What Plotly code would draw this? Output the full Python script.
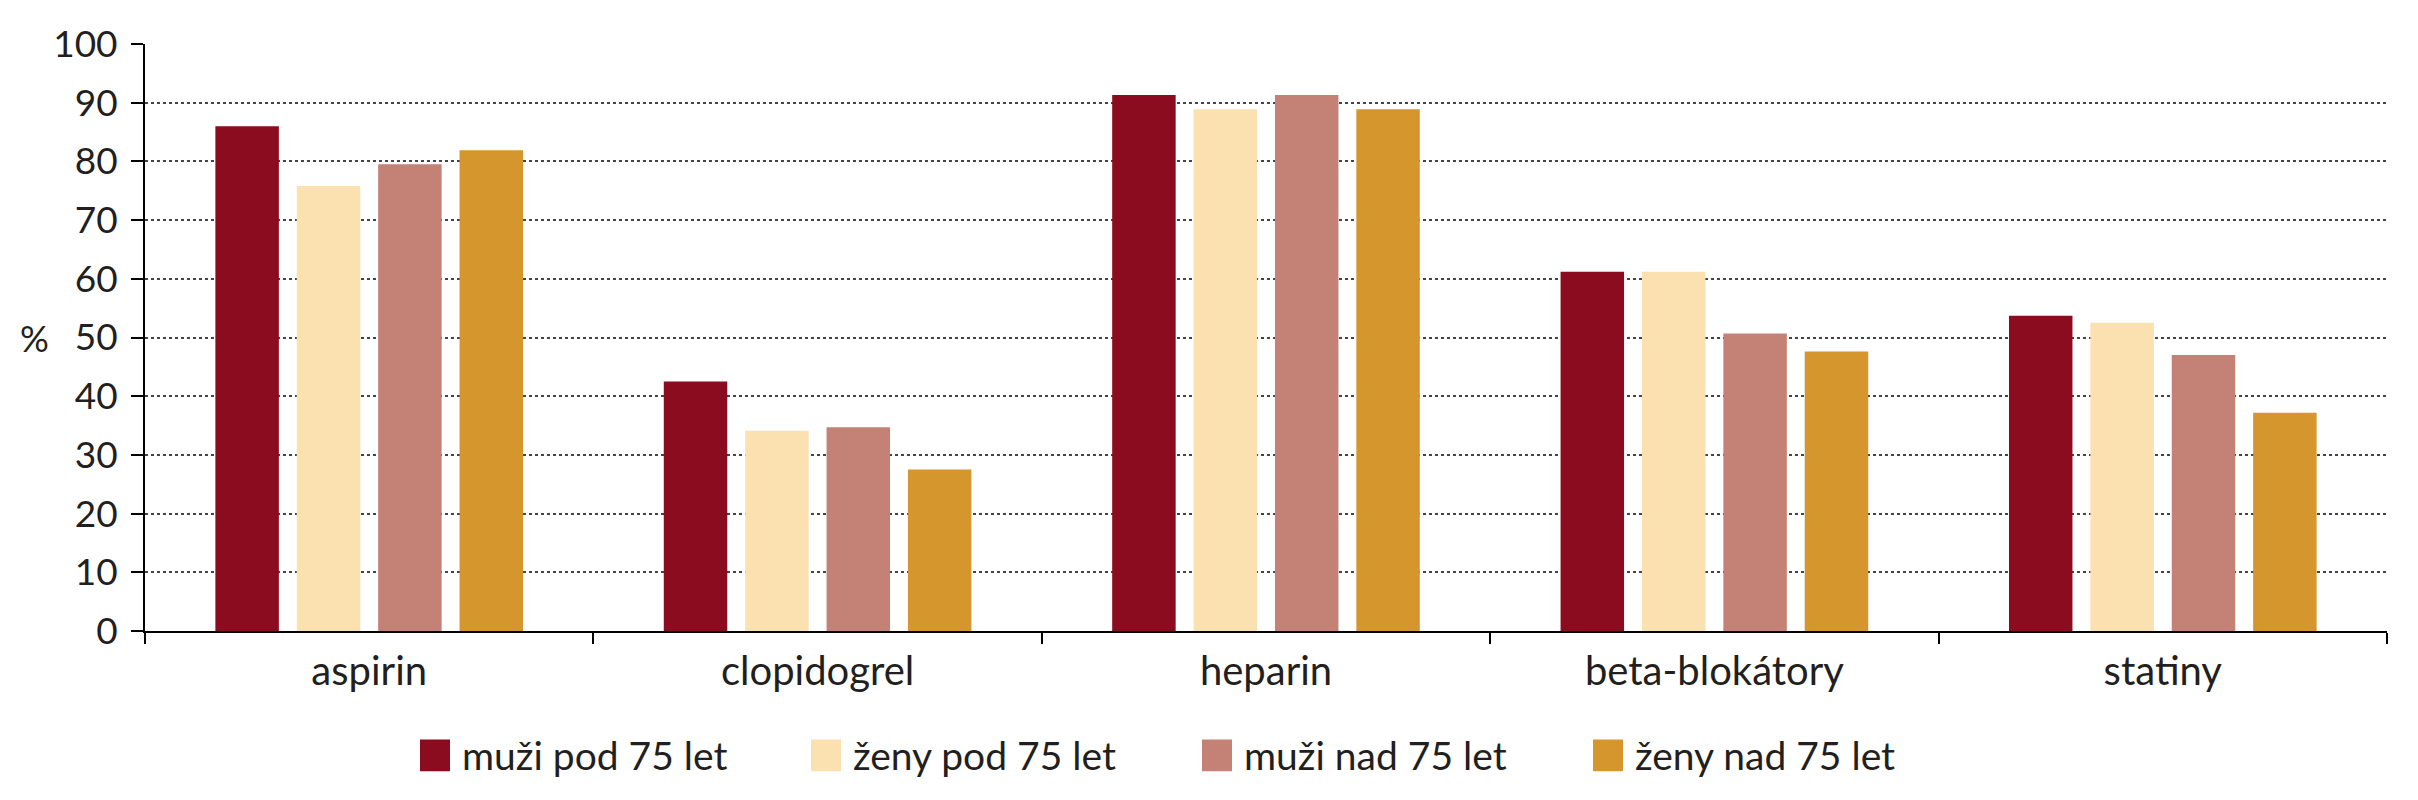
import plotly.graph_objects as go

categories = ["aspirin", "clopidogrel", "heparin", "beta-blokátory", "statiny"]
series_names = ["muži pod 75 let", "ženy pod 75 let", "muži nad 75 let", "ženy nad 75 let"]
muzi_pod_75 = [86.0, 42.5, 91.3, 61.2, 53.7]
zeny_pod_75 = [75.8, 34.1, 88.9, 61.2, 52.5]
muzi_nad_75 = [79.5, 34.7, 91.3, 50.7, 47.0]
zeny_nad_75 = [81.9, 27.5, 88.9, 47.6, 37.2]
colors = ["#8B0B1F", "#FBE0B0", "#C48175", "#D5972D"]

W, H = 2418, 800
L, R, T, B = 137, 39, 33, 177
pw, ph = W - L - R, H - T - B
font_main = "Lato, Open Sans, sans-serif"
txt = "#231f20"

fig = go.Figure()
for name, vals, col in zip(series_names, [muzi_pod_75, zeny_pod_75, muzi_nad_75, zeny_nad_75], colors):
    fig.add_trace(go.Bar(x=categories, y=vals, name=name, marker_color=col,
                         marker_line_width=0, showlegend=False))

# legend drawn by hand so the swatches can be big
for i, (name, col) in enumerate(zip(series_names, colors)):
    x0 = 412 + i * 391
    fig.add_shape(type="rect", xref="paper", yref="paper",
                  x0=(x0 - L) / pw, x1=(x0 + 30 - L) / pw,
                  y0=(T + ph - 732) / ph, y1=(T + ph - 764) / ph,
                  fillcolor=col, line_width=0)
    fig.add_annotation(text=name, xref="paper", yref="paper",
                       x=(x0 + 40 - L) / pw, y=(T + ph - 748) / ph,
                       xanchor="left", yanchor="middle", showarrow=False,
                       font=dict(size=39, color=txt, family=font_main))

fig.add_annotation(text="%", xref="paper", yref="y", x=(26 - L) / pw, y=50,
                   xanchor="center", yanchor="middle", showarrow=False,
                   font=dict(size=36, color=txt, family=font_main))

fig.update_layout(
    width=W, height=H,
    margin=dict(l=L, r=R, t=T, b=B),
    paper_bgcolor="white", plot_bgcolor="white",
    barmode="group", bargap=0.274, bargroupgap=0.22,
    font=dict(family=font_main, color=txt),
)
fig.update_xaxes(showline=True, linecolor="black", linewidth=2,
                 ticks="outside", tickson="boundaries", ticklen=11, tickwidth=2, tickcolor="black",
                 tickfont=dict(size=40, color=txt), ticklabelstandoff=4, showgrid=False)
fig.update_yaxes(range=[0, 100], dtick=10, showline=True, linecolor="black", linewidth=2,
                 ticks="outside", ticklen=12, tickwidth=2, tickcolor="black",
                 tickfont=dict(size=37, color=txt), ticklabelstandoff=6,
                 showgrid=True, gridcolor="#444", gridwidth=1.5, griddash="dot",
                 zeroline=False)

fig.write_html("out.html")
